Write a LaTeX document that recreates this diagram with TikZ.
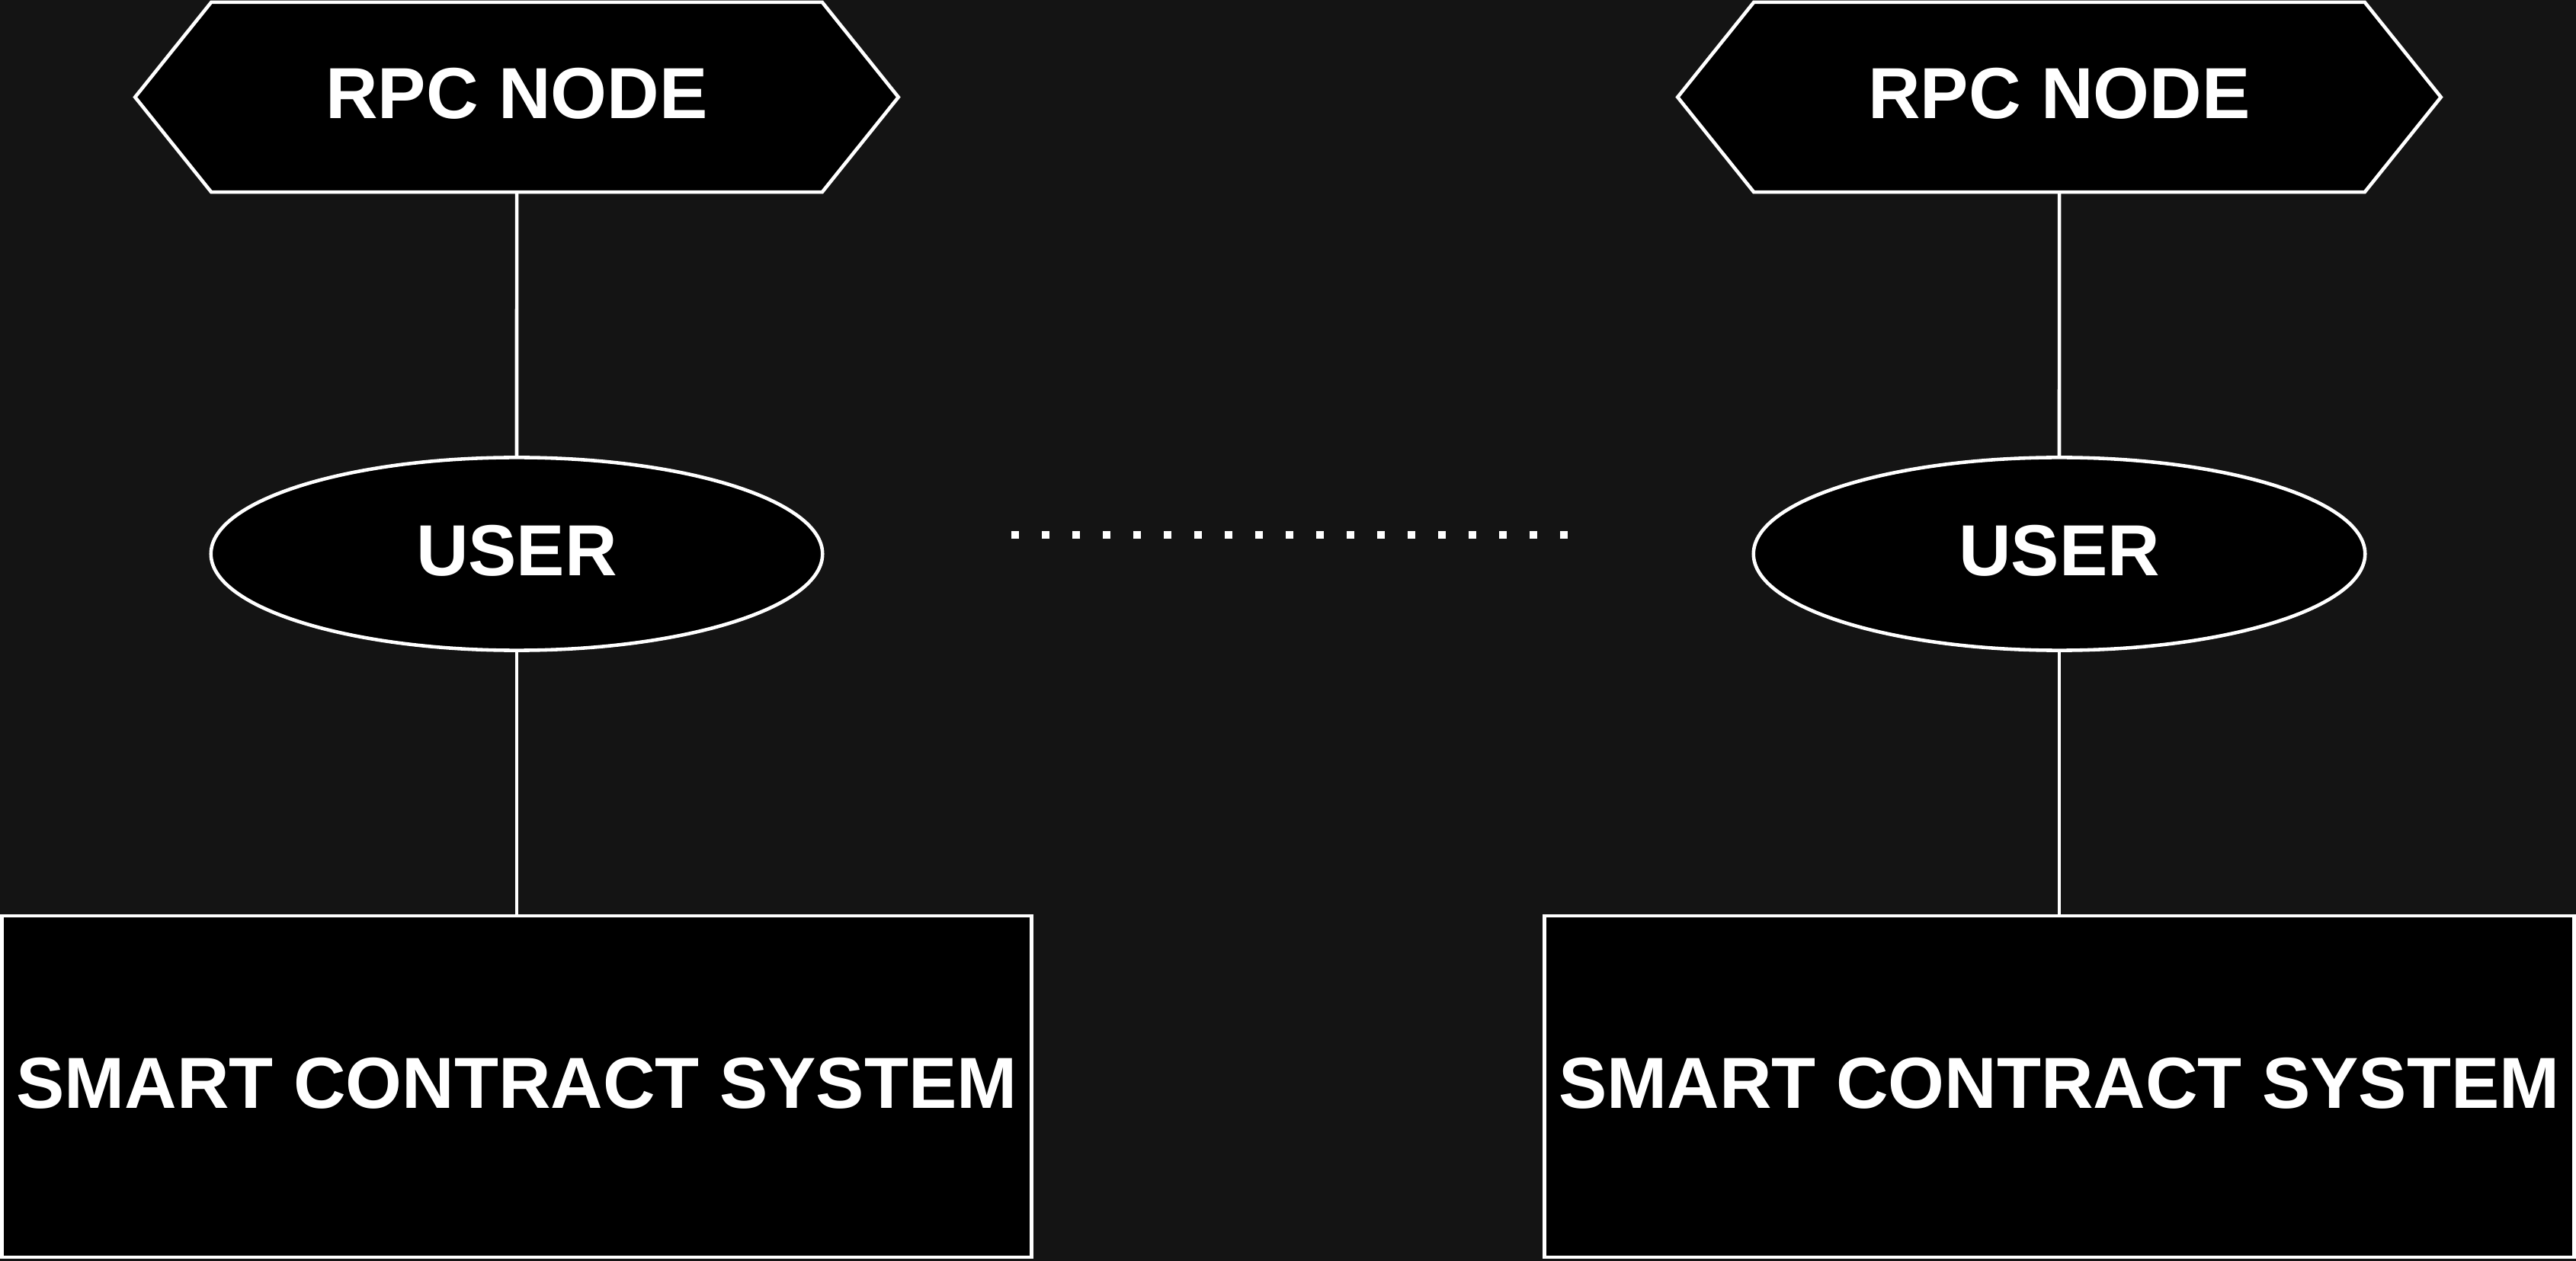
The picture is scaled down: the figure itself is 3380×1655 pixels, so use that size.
\documentclass[tikz,border=0pt]{standalone}
\usepackage{fontspec}
\setmainfont{Liberation Sans}
\usetikzlibrary{shapes.geometric,shapes.symbols}
\definecolor{bgdark}{HTML}{141414}
\begin{document}
\begin{tikzpicture}[x=0.01cm,y=-0.01cm]
\tikzstyle{lbl}=[draw=white, fill=black, line width=1.3pt, inner sep=0pt, outer sep=0pt, text=white, text depth=0.1cm, font=\fontsize{27}{32}\selectfont\bfseries]
\tikzstyle{rpc}=[lbl, signal, signal to=west and east, signal pointer angle=102.5, minimum width=10.01cm, minimum height=2.49cm]
\tikzstyle{usr}=[lbl, ellipse, minimum width=8.02cm, minimum height=2.53cm]
\tikzstyle{sys}=[lbl, rectangle, minimum width=13.5cm, minimum height=4.48cm]
\tikzstyle{ln}=[draw=white, line width=1.3pt]
\fill[bgdark] (0,0) rectangle (3380,1655);
\useasboundingbox (0,0) rectangle (3380,1655);

\node[rpc] (R1) at (678,127.5) {RPC NODE};
\node[usr] (U1) at (678,727) {USER};
\node[sys] (S1) at (678,1426) {SMART CONTRACT SYSTEM};

\node[rpc] (R2) at (2702,127.5) {RPC NODE};
\node[usr] (U2) at (2702,727) {USER};
\node[sys] (S2) at (2702,1426) {SMART CONTRACT SYSTEM};

\draw[ln] (R1) -- (U1);
\draw[ln] (U1) -- (S1);
\draw[ln] (R2) -- (U2);
\draw[ln] (U2) -- (S2);

\coordinate (D1) at (1327,702);
\coordinate (D2) at (2057,702);
\draw[white, line width=0.1cm, dash pattern=on 0.1cm off 0.3cm] (D1) -- (D2);
\end{tikzpicture}
\end{document}
